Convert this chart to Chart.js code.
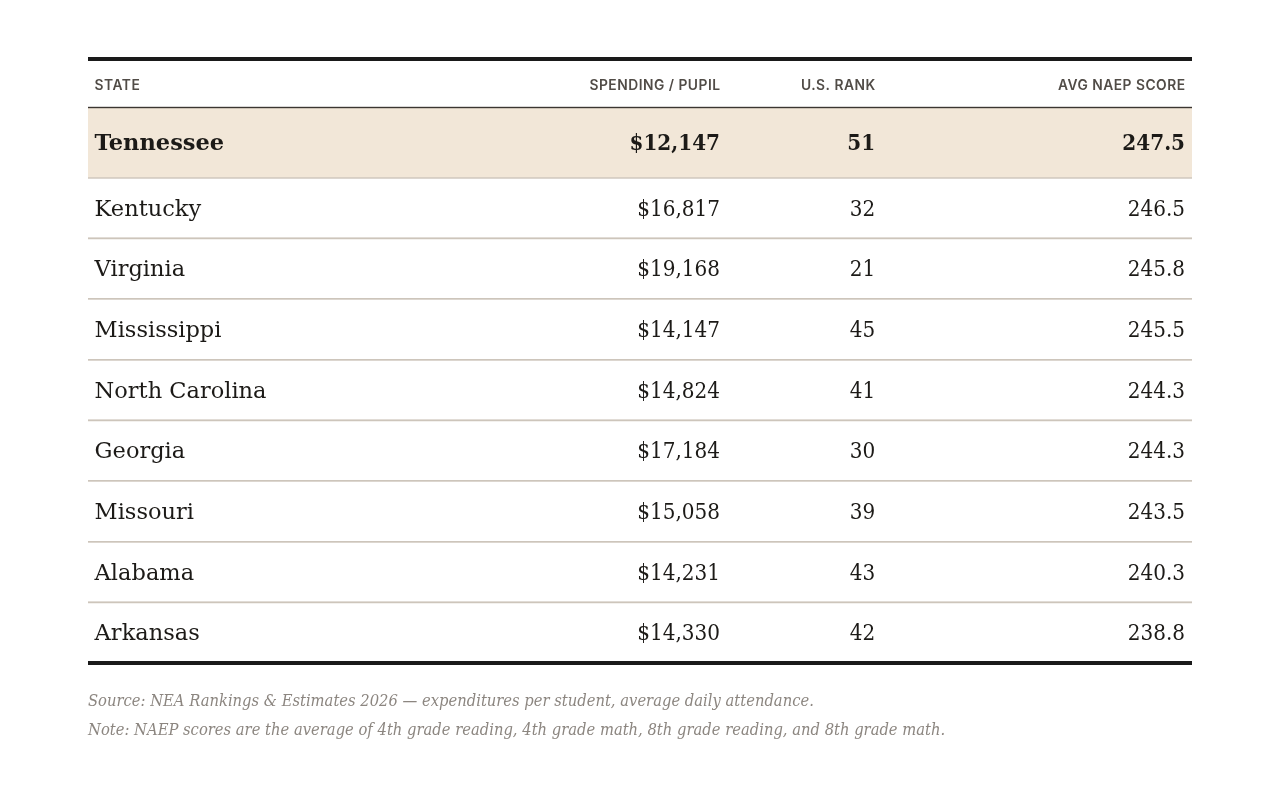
<!DOCTYPE html>
<html><head><meta charset="utf-8">
<script src="https://cdn.jsdelivr.net/npm/chart.js@4"></script>
<style>html,body{margin:0;background:#fff}#wrap{width:1280px;height:798px;position:relative}</style>
</head><body><div id="wrap"><canvas id="c" width="1280" height="798"></canvas></div>
<script>
const states = ["Tennessee","Kentucky","Virginia","Mississippi","North Carolina","Georgia","Missouri","Alabama","Arkansas"];
const spending = [12147,16817,19168,14147,14824,17184,15058,14231,14330];
const ranks = [51,32,21,45,41,30,39,43,42];
const naep = [247.5,246.5,245.8,245.5,244.3,244.3,243.5,240.3,238.8];
const highlightState = "Tennessee";
const columnHeaders = ["STATE","SPENDING / PUPIL","U.S. RANK","AVG NAEP SCORE"];
const notes = [
  "Source: NEA Rankings & Estimates 2026 \u2014 expenditures per student, average daily attendance.",
  "Note: NAEP scores are the average of 4th grade reading, 4th grade math, 8th grade reading, and 8th grade math."
];

// ---- styling / layout constants ----
const SERIF = '"DejaVu Serif", serif';
const SANS = 'Inter, "Noto Sans", sans-serif';
const HIGHLIGHT_ROW_SCALE = 1.15;        // highlighted row is a bit taller
const NUM_SQUEEZE = 0.89;                 // narrower figures
const colAnchor = [0.006, 0.5725, 0.713, 0.9937]; // on hidden 0..1 x scale

// row boundaries in y-scale units (derived from the rows)
const rowSize = states.map(s => s === highlightState ? HIGHLIGHT_ROW_SCALE : 1);
const rowStart = [];
rowSize.reduce((acc, v, i) => { rowStart[i] = acc; return acc + v; }, 0);
const totalRows = rowSize.reduce((a, b) => a + b, 0);
const boundaries = rowStart.concat([totalRows]);
const hi = states.indexOf(highlightState);

function drawSqueezed(ctx, text, x, y, align, sx) {
  ctx.save();
  ctx.translate(x, y);
  ctx.scale(sx, 1);
  ctx.textAlign = align;
  ctx.fillText(text, 0, 0);
  ctx.restore();
}

const tablePlugin = {
  id: 'tablePlugin',
  afterDraw(chart) {
    const ctx = chart.ctx, a = chart.chartArea;
    const xs = chart.scales.x, ys = chart.scales.y;
    const w = a.right - a.left;
    ctx.save();
    // row separators over the highlight band
    ctx.fillStyle = '#cdc5bb';
    boundaries.slice(1, -1).forEach(v => {
      ctx.fillRect(a.left, Math.round(ys.getPixelForValue(v)) - 0.6, w, 1.2);
    });
    // top rule
    ctx.fillStyle = '#1a1a1a';
    ctx.fillRect(a.left, a.top - 51, w, 4);
    // header
    ctx.font = '600 13.8px ' + SANS;
    ctx.letterSpacing = '0.5px';
    ctx.fillStyle = '#514c47';
    ctx.textBaseline = 'alphabetic';
    columnHeaders.forEach((h, i) => {
      ctx.textAlign = i === 0 ? 'left' : 'right';
      ctx.fillText(h, xs.getPixelForValue(colAnchor[i]) + (i === 0 ? 0 : 0.5), a.top - 18);
    });
    ctx.letterSpacing = '0px';
    ctx.fillStyle = '#3b3631';
    ctx.fillRect(a.left, a.top - 1.2, w, 1.4);
    // rows
    states.forEach((s, i) => {
      const y = ys.getPixelForValue(rowStart[i] + rowSize[i] / 2) + 7.5;
      const bold = s === highlightState;
      ctx.fillStyle = '#1c1a17';
      ctx.font = (bold ? 'bold ' : '') + '22.5px ' + SERIF;
      ctx.textAlign = 'left';
      ctx.fillText(s, xs.getPixelForValue(colAnchor[0]), y);
      drawSqueezed(ctx, '$' + spending[i].toLocaleString('en-US'), xs.getPixelForValue(colAnchor[1]), y, 'right', NUM_SQUEEZE);
      drawSqueezed(ctx, String(ranks[i]), xs.getPixelForValue(colAnchor[2]), y, 'right', NUM_SQUEEZE);
      drawSqueezed(ctx, naep[i].toFixed(1), xs.getPixelForValue(colAnchor[3]), y, 'right', NUM_SQUEEZE);
    });
    // bottom rule
    ctx.fillStyle = '#1a1a1a';
    ctx.fillRect(a.left, a.bottom - 2, w, 4);
    // notes
    ctx.font = 'italic 16px ' + SERIF;
    ctx.fillStyle = '#8c8680';
    notes.forEach((n, i) => drawSqueezed(ctx, n, a.left, a.bottom + 43 + i * 29, 'left', 0.922));
    ctx.restore();
  }
};

new Chart(document.getElementById('c'), {
  type: 'line',
  data: {
    datasets: [{
      label: highlightState,
      data: [{ x: 0, y: rowStart[hi] }, { x: 1, y: rowStart[hi] }],
      fill: { value: rowStart[hi] + rowSize[hi] },
      backgroundColor: '#f2e7d8',
      borderWidth: 0,
      borderColor: 'rgba(0,0,0,0)',
      pointRadius: 0
    }]
  },
  options: {
    responsive: false,
    animation: false,
    devicePixelRatio: 1,
    layout: { padding: { left: 88, right: 88, top: 108, bottom: 135 } },
    plugins: { legend: { display: false }, tooltip: { enabled: false } },
    scales: {
      x: { type: 'linear', min: 0, max: 1, display: false },
      y: {
        type: 'linear', min: 0, max: totalRows, reverse: true,
        afterBuildTicks: s => { s.ticks = boundaries.map(v => ({ value: v })); },
        ticks: { display: false },
        grid: {
          color: c => (c.index === 0 || c.index === boundaries.length - 1) ? 'rgba(0,0,0,0)' : '#cdc5bb',
          lineWidth: 1.2, drawTicks: false
        },
        border: { display: false },
        afterFit: s => { s.width = 0; }
      }
    }
  },
  plugins: [tablePlugin]
});
</script>
</body></html>
